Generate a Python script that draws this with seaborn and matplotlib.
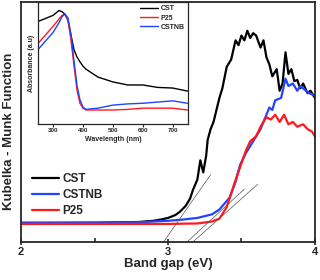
import pandas as pd
import matplotlib.pyplot as plt
import seaborn as sns

# main panel: Kubelka-Munk vs band gap (eV)
cst_x = [2.0, 2.5, 2.8, 2.9, 2.95, 3.0, 3.05, 3.08, 3.12, 3.15, 3.17, 3.2, 3.22, 3.24, 3.26, 3.27,
         3.29, 3.31, 3.33, 3.35, 3.37, 3.40, 3.43, 3.46, 3.48, 3.50, 3.52, 3.54, 3.56, 3.58, 3.60,
         3.63, 3.65, 3.67, 3.69, 3.71, 3.74, 3.76, 3.78, 3.80, 3.82, 3.84, 3.86, 3.88, 3.90, 3.92,
         3.95, 3.97, 4.0]
cst_y = [0.08, 0.08, 0.083, 0.088, 0.093, 0.1, 0.112, 0.125, 0.15, 0.18, 0.217, 0.26, 0.34, 0.29,
         0.36, 0.425, 0.47, 0.5, 0.55, 0.6, 0.64, 0.73, 0.76, 0.84, 0.82, 0.86, 0.84, 0.88, 0.85,
         0.87, 0.86, 0.81, 0.84, 0.77, 0.74, 0.69, 0.72, 0.63, 0.66, 0.79, 0.7, 0.72, 0.67, 0.675,
         0.64, 0.66, 0.62, 0.63, 0.6]

nb_x = [2.0, 2.8, 3.0, 3.1, 3.2, 3.3, 3.35, 3.42, 3.46, 3.49, 3.53, 3.56, 3.58, 3.61, 3.63,
        3.65, 3.69, 3.71, 3.73, 3.77, 3.80, 3.82, 3.85, 3.88, 3.90, 3.92, 3.96, 4.0]
nb_y = [0.078, 0.082, 0.088, 0.093, 0.1, 0.115, 0.135, 0.185, 0.25, 0.32, 0.37, 0.40, 0.42,
        0.45, 0.47, 0.5, 0.56, 0.55, 0.59, 0.6, 0.68, 0.65, 0.66, 0.63, 0.65, 0.64, 0.62, 0.61]

p25_x = [2.0, 3.0, 3.2, 3.3, 3.35, 3.40, 3.45, 3.49, 3.53, 3.56, 3.60, 3.63, 3.65, 3.67, 3.70,
         3.73, 3.76, 3.79, 3.82, 3.85, 3.88, 3.92, 3.95, 3.98, 4.0]
p25_y = [0.075, 0.075, 0.077, 0.085, 0.097, 0.145, 0.24, 0.31, 0.38, 0.42, 0.44, 0.48, 0.5, 0.52,
         0.51, 0.53, 0.5, 0.53, 0.49, 0.5, 0.48, 0.49, 0.47, 0.46, 0.44]

# tangent (Tauc) lines: (x0, x1, y0, y1)
tangents = [(2.97, 3.29, 0.0, 0.28), (3.13, 3.52, 0.0, 0.22), (3.17, 3.61, 0.0, 0.24)]

# inset: absorbance vs wavelength (nm)
wl = [250, 300, 320, 330, 340, 350, 360, 370, 380, 390, 400, 410, 450, 500, 550, 600, 650, 700, 750]
abs_cst = [0.84, 0.89, 0.93, 0.92, 0.9, 0.85, 0.73, 0.61, 0.55, 0.51, 0.475, 0.45, 0.385, 0.345,
           0.32, 0.32, 0.30, 0.295, 0.27]
abs_p25 = [0.66, 0.80, 0.86, 0.89, 0.9, 0.85, 0.69, 0.48, 0.28, 0.17, 0.13, 0.115, 0.115, 0.115,
           0.12, 0.13, 0.13, 0.13, 0.115]
abs_nb = [0.61, 0.75, 0.83, 0.88, 0.9, 0.87, 0.73, 0.52, 0.32, 0.2, 0.14, 0.12, 0.13, 0.155,
          0.165, 0.17, 0.18, 0.19, 0.17]

black, blue, red = "#000000", "#2244ff", "#ff1a1a"

sns.set_style("ticks")
plt.rcParams["font.family"] = ["Liberation Sans", "DejaVu Sans"]
plt.rcParams["font.weight"] = "bold"

fig = plt.figure(figsize=(3.2, 2.8), dpi=100)
ax = fig.add_axes([0.066, 0.136, 0.918, 0.857])

sns.lineplot(x=cst_x, y=cst_y, color=black, lw=1.6, label="CST", ax=ax)
sns.lineplot(x=nb_x, y=nb_y, color=blue, lw=1.6, label="CSTNB", ax=ax)
sns.lineplot(x=p25_x, y=p25_y, color=red, lw=1.6, label="P25", ax=ax)
for x0, x1, y0, y1 in tangents:
    ax.plot([x0, x1], [y0, y1], color="#555555", lw=0.5)

ax.set_xlim(2, 4)
ax.set_ylim(0, 1)
ax.set_xticks([2, 3, 4])
ax.set_xticks([2.5, 3.5], minor=True)
ax.set_yticks([])
ax.tick_params(axis="x", which="major", direction="inout", length=5, width=1.2, labelsize=8, pad=1)
ax.tick_params(axis="x", which="minor", direction="in", length=3, width=1.2)
for s in ax.spines.values():
    s.set_linewidth(1.3)
ax.set_xlabel("Band gap (eV)", fontsize=9.5, fontweight="bold", labelpad=1)
ax.set_ylabel("Kubelka - Munk Function", fontsize=9.5, fontweight="bold")
ax.yaxis.set_label_coords(-0.02, 0.46)
leg = ax.legend(loc="lower left", bbox_to_anchor=(0.0, 0.06), frameon=False, fontsize=8.5,
                handlelength=2.3, handletextpad=0.3, labelspacing=0.35)

# inset
ins = fig.add_axes([0.119, 0.557, 0.469, 0.436])
sns.lineplot(x=wl, y=abs_cst, color=black, lw=1.0, label="CST", ax=ins)
sns.lineplot(x=wl, y=abs_p25, color=red, lw=1.0, label="P25", ax=ins)
sns.lineplot(x=wl, y=abs_nb, color=blue, lw=1.0, label="CSTNB", ax=ins)
ins.set_xlim(250, 752)
ins.set_ylim(0, 1)
ins.set_xticks([300, 400, 500, 600, 700])
ins.set_yticks([])
ins.tick_params(axis="x", direction="out", length=2, width=0.8, labelsize=4.5, pad=1)
for s in ins.spines.values():
    s.set_linewidth(0.9)
ins.set_xlabel("Wavelength (nm)", fontsize=5, fontweight="bold", labelpad=2)
ins.set_ylabel("Absorbance (a.u)", fontsize=5, fontweight="bold", labelpad=2)
ins.legend(loc="upper right", frameon=False, fontsize=5, handlelength=2.6,
           handletextpad=0.3, labelspacing=0.3, borderaxespad=0.1)

fig.savefig("out.png", dpi=100)
